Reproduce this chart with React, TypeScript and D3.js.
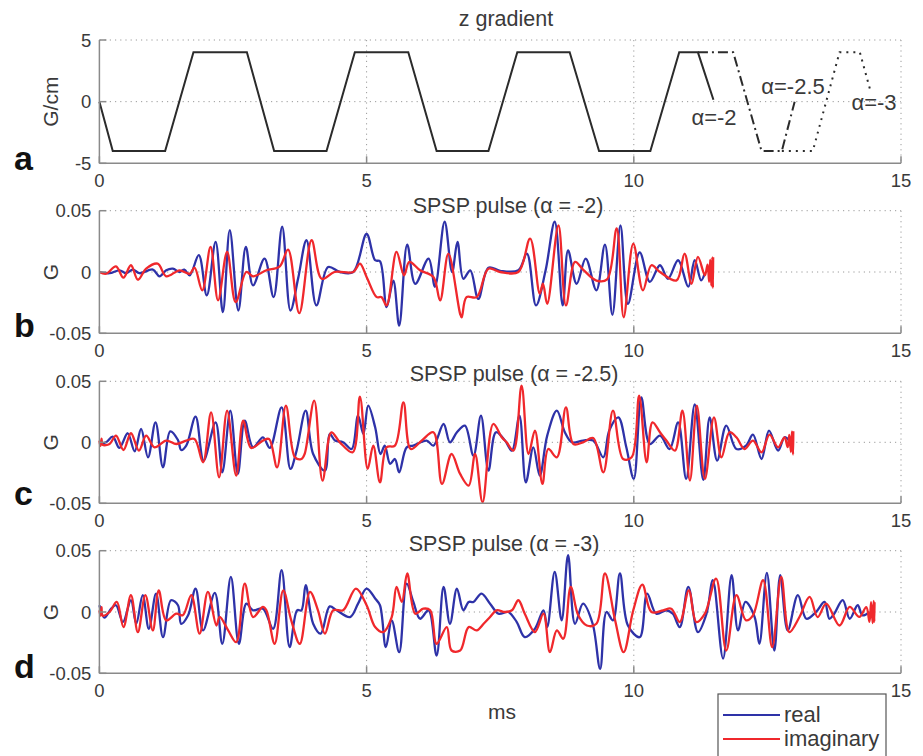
import React from "react";
import * as d3 from "d3";

// ---------- data ----------
type P = [number, number];

const xTickValues = [0, 5, 10, 15];
const gradTicks = [-5, 0, 5];
const pulseTicks = [-0.05, 0, 0.05];

// z gradient (G/cm) vs time (ms)
const gradAlpha2: P[] = [
  [0, 0], [0.25, -4], [1.23, -4], [1.76, 4], [2.76, 4], [3.27, -4], [4.25, -4], [4.78, 4], [5.78, 4],
  [6.31, -4], [7.28, -4], [7.82, 4], [8.8, 4], [9.35, -4], [10.31, -4], [10.85, 4], [11.2, 4], [11.49, 0.15],
];
const gradAlpha25: P[] = [[11.2, 4], [11.86, 4], [12.39, -4], [12.77, -4], [13.01, 0]];
const gradAlpha3: P[] = [[12.77, -4], [13.35, -4], [13.85, 4], [14.23, 4], [14.42, 1.0]];

const realB: P[] = [
  [0, 0], [0.19, -0.001], [0.375, 0.0014], [0.5, -0.001], [0.625, 0.002], [0.75, -0.001], [1.0, 0.002], [1.125, -0.0035],
  [1.25, 0.0014], [1.375, 0.0027], [1.5, 0], [1.59, 0.002], [1.69, -0.0027],
  [1.86, 0.0137], [2.01, -0.0191], [2.175, 0.0246], [2.31, -0.0328], [2.44, 0.0341], [2.6, -0.0314], [2.74, 0.0205],
  [2.875, -0.0109], [3.09, 0.0109], [3.26, -0.0205], [3.42, 0.0369], [3.575, -0.0314], [3.72, -0.005], [3.875, 0.0259],
  [4.06, -0.0273], [4.28, 0.0041], [4.5, 0.0], [4.75, 0.0],
  [5.0, 0.031], [5.16, 0.0096], [5.25, 0.0087], [5.375, -0.0287], [5.5, -0.007], [5.61, -0.0437], [5.76, 0.0224],
  [5.91, -0.0096], [6.16, 0.0109], [6.28, -0.012], [6.46, 0.041], [6.6, 0.0], [6.7, 0.0246],
  [6.81, -0.0055], [6.94, 0.0014], [7.09, -0.022], [7.28, 0.0035], [7.5, 0.001], [7.84, 0.0014], [8.0, 0.015],
  [8.17, -0.0273], [8.35, 0.0014], [8.52, 0.041], [8.67, -0.0273], [8.77, 0.0177], [8.93, -0.0096], [9.1, 0.0109],
  [9.3, -0.015], [9.46, 0.0224], [9.6, -0.035], [9.75, 0.038], [9.89, -0.026], [10.11, 0.016], [10.3, -0.008],
  [10.49, 0.0055], [10.64, -0.0055], [10.83, 0.0096], [11.02, -0.012], [11.14, 0.0096], [11.26, -0.0068], [11.33, -0.001],
];
const imagB: P[] = [
  [0, 0], [0.125, -0.0014], [0.31, 0.0046], [0.45, -0.0046], [0.59, 0.0055], [0.72, -0.0063], [0.875, 0.0027],
  [1.09, 0.0068], [1.25, -0.0035], [1.5, 0.0014], [1.69, -0.0014], [1.78, 0.0035],
  [1.925, -0.015], [2.08, 0.0205], [2.22, -0.0232], [2.39, 0.0164], [2.55, -0.0246], [2.75, 0.0], [2.875, -0.0035],
  [3.125, 0.0014], [3.375, 0.0046], [3.53, 0.0183], [3.74, -0.0336], [3.97, 0.0259], [4.16, -0.0055], [4.4, 0.0], [4.75, 0.0],
  [4.875, 0.0068], [5.0, -0.004], [5.19, -0.0205], [5.28, -0.0205], [5.375, -0.0273], [5.56, 0.0164], [5.7, -0.0027],
  [5.8, 0.0082], [6.0, 0.0014], [6.25, -0.004], [6.375, -0.0232], [6.53, 0.015], [6.75, -0.0341],
  [6.78, -0.037], [6.87, -0.0205], [7.06, -0.0205], [7.28, 0.0027], [7.5, 0.0], [7.84, 0.0], [8.06, 0.0273],
  [8.24, -0.0177], [8.3, -0.0096], [8.38, -0.026], [8.59, 0.038], [8.73, -0.0273], [8.9, 0.0082], [9.05, 0.002],
  [9.3, -0.007], [9.5, -0.006], [9.68, 0.0355], [9.81, -0.0369], [9.99, 0.0232], [10.17, -0.015], [10.33, 0.0055],
  [10.49, 0.0], [10.8, -0.0068], [10.95, 0.015], [11.08, -0.0096], [11.2, 0.0123], [11.33, -0.0027],
  [11.38, 0.006], [11.41, -0.008], [11.43, 0.01], [11.45, -0.011], [11.47, 0.012], [11.48, -0.013], [11.485, 0.012],
];

const realC: P[] = [
  [0, -0.0014], [0.125, 0], [0.25, 0.0046], [0.375, -0.0046], [0.53, 0.0074], [0.66, -0.0074], [0.78, 0.0109],
  [0.91, -0.0123], [1.05, 0.0164], [1.19, -0.0205], [1.325, 0.009], [1.47, 0.0019], [1.53, -0.0063], [1.625, -0.0027],
  [1.8, 0.021], [1.95, -0.015], [2.175, 0.0164], [2.3, -0.0246], [2.45, 0.0259], [2.59, -0.0259], [2.72, 0.0177],
  [2.875, -0.0041], [3.06, 0.0041], [3.19, -0.0046], [3.41, 0.0287], [3.575, -0.0218], [3.69, -0.0068], [3.86, 0.0259],
  [4.0, -0.0096], [4.22, -0.0232], [4.31, 0.0068], [4.41, 0.0014], [4.56, 0], [4.72, -0.0055], [4.84, 0.0218],
  [4.94, 0.0068], [5.03, 0.03], [5.16, 0.0123], [5.26, -0.0096], [5.34, -0.0027], [5.44, -0.0177], [5.53, -0.0137],
  [5.61, -0.0246], [5.75, -0.0041], [5.875, -0.0027], [6.125, 0.0014], [6.25, -0.0027], [6.44, 0.015], [6.56, 0],
  [6.69, 0.0082],
  [6.84, 0.0137], [7.0, -0.0109], [7.14, 0.0218], [7.28, -0.0232], [7.42, 0.0082], [7.59, 0.0014], [7.72, -0.0068],
  [7.86, 0.0218], [7.98, -0.0328], [8.12, -0.0041], [8.24, -0.0273], [8.38, 0.0055], [8.56, 0.0259], [8.71, 0.0082],
  [8.84, 0], [9.05, 0.0014], [9.24, 0.0014], [9.43, -0.0123], [9.54, 0.0096], [9.71, 0.0205], [9.86, -0.0041],
  [10.0, -0.03], [10.14, 0.0369], [10.3, -0.0014], [10.49, 0.0055], [10.67, -0.0055], [10.83, 0.0164], [10.98, -0.03],
  [11.14, 0.031], [11.3, -0.0308], [11.42, 0.0205], [11.56, -0.015], [11.73, 0.0137], [11.92, -0.0055], [12.1, -0.0027],
  [12.23, 0.0063], [12.39, -0.0137], [12.53, 0.0096], [12.7, -0.0068], [12.82, 0.0041], [12.91, 0.0014],
];
const imagC: P[] = [
  [0, 0.0014], [0.02, -0.003], [0.04, 0.003], [0.06, -0.002], [0.19, -0.0014], [0.31, 0.0055], [0.45, -0.0063],
  [0.59, 0.0074], [0.74, -0.0068], [0.875, 0.0055], [1.03, -0.0041], [1.25, 0.0014], [1.44, -0.0014], [1.625, 0.0014],
  [1.78, 0.0027], [1.94, -0.0164], [2.09, 0.0246], [2.24, -0.0287], [2.39, 0.0259], [2.56, -0.0273], [2.69, 0.0177],
  [2.84, -0.0046], [3.06, 0.0014], [3.175, 0.0027], [3.325, -0.0205], [3.49, 0.03], [3.66, -0.0123], [3.78, -0.0137],
  [3.84, -0.0096], [4.02, 0.0341], [4.175, -0.0314], [4.34, 0.0082], [4.5, 0], [4.74, -0.0082], [4.875, 0.0374],
  [5.02, -0.0218], [5.125, -0.0027], [5.25, -0.0328], [5.375, -0.0041], [5.53, -0.0027], [5.69, 0.0328],
  [5.825, -0.0055], [6.03, 0.0014], [6.25, 0.0082], [6.41, -0.0341], [6.59, -0.0096], [6.75, -0.0259],
  [6.91, -0.0355], [7.03, -0.0096], [7.17, -0.0491], [7.37, 0.015], [7.53, 0.0041], [7.62, 0], [7.75, -0.0068],
  [7.9, 0.0464], [8.03, -0.0096], [8.15, 0.0096], [8.29, -0.0341], [8.4, -0.0055], [8.56, -0.0123], [8.73, 0.0287],
  [8.87, -0.0014], [9.05, 0], [9.24, 0.0035], [9.43, -0.0246], [9.61, 0.0259], [9.8, -0.0137], [9.96, -0.0123],
  [10.1, 0.0382], [10.24, -0.0164], [10.35, 0.0164], [10.49, 0.0082], [10.61, 0.0014], [10.77, -0.0068], [10.91, 0.0259],
  [11.05, -0.0314], [11.18, 0.03], [11.33, -0.03], [11.5, 0.0205], [11.64, -0.0123], [11.79, 0.0082], [11.92, 0.0041],
  [12.07, -0.0055], [12.23, 0.0014], [12.39, -0.0082], [12.54, 0.0063], [12.7, -0.0041], [12.82, 0.0041],
  [12.88, -0.004], [12.91, 0.006], [12.94, -0.008], [12.96, 0.009], [12.98, -0.01], [12.985, 0.009],
];

const realD: P[] = [
  [0, 0.0055], [0.094, -0.0046], [0.22, 0.0027], [0.31, 0.0055], [0.44, -0.0082], [0.59, 0.0096], [0.69, -0.0096],
  [0.81, 0.0137], [0.925, -0.0137], [1.06, 0.015], [1.19, -0.0205], [1.34, 0.0096], [1.47, 0.0055], [1.53, -0.0096],
  [1.66, -0.0027], [1.8, 0.0191], [1.94, -0.015], [2.16, 0.0156], [2.3, -0.0259], [2.46, 0.0287], [2.61, -0.0259],
  [2.75, 0.0068], [2.875, 0.0014], [3.06, 0.0027], [3.25, -0.0137], [3.41, 0.0341], [3.56, -0.0287], [3.7, 0.0014],
  [3.78, 0.0014], [3.86, 0.0218], [4.0, -0.0096], [4.14, -0.0177], [4.31, 0.0046], [4.44, 0.0014], [4.69, -0.0041],
  [4.84, 0.0068], [5.0, 0.0191], [5.16, 0.011], [5.25, 0.0055], [5.36, -0.0287], [5.47, -0.0068], [5.61, -0.0328],
  [5.75, 0.0232], [5.875, 0.0082], [6.0, -0.0055], [6.16, 0.0014], [6.31, -0.0355], [6.44, 0.0205], [6.56, -0.0096],
  [6.69, 0.0191],
  [6.81, 0.0014], [6.91, 0.0082], [7.0, 0.0082], [7.15, 0.015], [7.31, 0.0068], [7.47, -0.0014], [7.65, 0],
  [7.81, -0.0082], [7.96, -0.0205], [8.15, -0.0137], [8.31, 0.0014], [8.38, -0.0123], [8.52, 0.0328], [8.65, -0.0068],
  [8.77, 0.0464], [8.9, -0.0096], [9.05, 0.0068], [9.23, -0.0096], [9.37, -0.0464], [9.49, 0], [9.61, -0.0068],
  [9.74, 0.0314], [9.89, -0.011], [10.11, -0.0205], [10.25, 0.015], [10.42, -0.0014], [10.61, 0.0014], [10.73, -0.0014],
  [10.86, -0.0123], [11.02, 0.0205], [11.2, -0.0164], [11.36, -0.0014], [11.48, 0.0259], [11.67, -0.038], [11.83, 0.03],
  [11.95, -0.015], [12.09, 0.0082], [12.26, -0.004], [12.35, -0.0259], [12.49, 0.0319], [12.63, -0.0314], [12.74, 0.03],
  [12.88, -0.015], [13.07, 0.0137], [13.23, -0.0055], [13.41, 0], [13.57, 0.0082], [13.66, -0.0055], [13.75, -0.0014],
  [13.91, 0.0096], [14.04, -0.0055], [14.19, 0.0055], [14.28, -0.0027], [14.41, 0],
];
const imagD: P[] = [
  [0, 0.0014], [0.02, -0.003], [0.04, 0.004], [0.06, -0.003], [0.19, 0], [0.325, 0.0082], [0.45, -0.0123],
  [0.59, 0.0137], [0.72, -0.0164], [0.86, 0.0137], [1.0, -0.015], [1.11, 0.0177], [1.25, -0.0068], [1.44, -0.0014],
  [1.56, -0.0027], [1.72, 0.0137], [1.875, -0.0177], [2.03, 0.0164], [2.19, -0.011], [2.25, -0.004], [2.41, -0.015],
  [2.56, -0.0246], [2.72, 0.0232], [2.875, -0.0041], [3.06, 0.0041], [3.125, 0.0014], [3.28, -0.0259], [3.44, 0.0177],
  [3.59, -0.0068], [3.75, -0.0259], [3.94, 0.0164], [4.09, 0.0014], [4.22, -0.0177], [4.375, 0.0014], [4.56, 0.0014],
  [4.8, 0.0191], [5.0, 0.0055], [5.16, -0.0123], [5.31, -0.0164], [5.47, -0.0041], [5.56, 0.0205], [5.66, 0.0082],
  [5.76, 0.0314], [5.91, -0.0014], [6.06, 0.0027], [6.19, 0.0014], [6.31, -0.0259], [6.5, -0.0123], [6.59, -0.0314],
  [6.75, -0.0314],
  [6.91, -0.0123], [7.06, -0.015], [7.19, -0.0096], [7.31, -0.0041], [7.43, 0.0014], [7.59, 0], [7.72, 0.0014],
  [7.84, 0.0096], [7.96, -0.0014], [8.15, -0.0164], [8.31, -0.0014], [8.43, -0.0328], [8.56, -0.015], [8.68, -0.0218],
  [8.82, 0.0205], [8.96, -0.0027], [9.12, -0.011], [9.3, -0.0096], [9.46, 0.0314], [9.65, -0.0068], [9.81, -0.0328],
  [9.99, 0.0014], [10.16, 0.0224], [10.33, 0], [10.55, 0.0014], [10.7, 0.0027], [10.86, -0.0082], [11.03, 0.0177],
  [11.17, -0.0082], [11.33, -0.0014], [11.54, 0.0273], [11.73, -0.0314], [11.92, 0.0137], [12.1, -0.0068],
  [12.23, -0.0027], [12.42, 0.0259], [12.59, -0.0287], [12.76, 0.0287], [12.91, -0.0164], [13.1, -0.0041],
  [13.29, 0.0123], [13.44, -0.0041], [13.6, 0.0068], [13.85, -0.011], [14.04, 0.0041], [14.22, -0.004], [14.35, 0.004],
  [14.41, -0.008], [14.44, 0.008], [14.47, -0.009], [14.49, 0.009], [14.5, -0.008], [14.505, 0.008],
];

const legendLabels = ["real", "imaginary"];

// ---------- styles ----------
const FONT = "'Liberation Sans', Arial, Helvetica, sans-serif";
const TEXT = "#3a3a3a";
const AXIS = "#8a8a8a";
const GRID = "#9a9a9a";
const BLUE = "#2e32a8";
const RED = "#f0282c";

const X0 = 99.4;
const X1 = 901;

const x = d3.scaleLinear().domain([0, 15]).range([X0, X1]);

interface PanelProps {
  top: number;
  bottom: number;
  domain: [number, number];
  ticks: number[];
  letter: string;
  letterY: number;
  ylabel: string;
  title: string;
  titleX: number;
  titleY: number;
  children: (y: d3.ScaleLinear<number, number>) => React.ReactNode;
}

function Panel(p: PanelProps) {
  const y = d3.scaleLinear().domain(p.domain).range([p.bottom, p.top]);
  const yMid = (p.top + p.bottom) / 2;
  return (
    <g>
      {p.ticks.filter((t) => t !== p.domain[0]).map((t) => (
        <line key={"gy" + t} x1={X0} x2={X1} y1={y(t)} y2={y(t)} stroke={GRID} strokeWidth={1} strokeDasharray="1.2,4" />
      ))}
      {xTickValues.filter((t) => t !== 0).map((t) => (
        <line key={"gx" + t} x1={x(t)} x2={x(t)} y1={p.top} y2={p.bottom} stroke={GRID} strokeWidth={1} strokeDasharray="1.2,4" />
      ))}
      {p.children(y)}
      <line x1={X0} x2={X0} y1={p.top} y2={p.bottom} stroke={AXIS} strokeWidth={1.5} />
      <line x1={X0} x2={X1} y1={p.bottom} y2={p.bottom} stroke={AXIS} strokeWidth={1.5} />
      {xTickValues.map((t) => (
        <g key={"xt" + t}>
          <line x1={x(t)} x2={x(t)} y1={p.bottom} y2={p.bottom - 7} stroke={AXIS} strokeWidth={1.5} />
          <text x={x(t)} y={p.bottom + 24} textAnchor="middle" fontSize={18.5} fill={TEXT} fontFamily={FONT}>
            {String(t)}
          </text>
        </g>
      ))}
      {p.ticks.map((t) => (
        <g key={"yt" + t}>
          <line x1={X0} x2={X0 + 7} y1={y(t)} y2={y(t)} stroke={AXIS} strokeWidth={1.5} />
          <text x={X0 - 8} y={y(t)} dy="0.36em" textAnchor="end" fontSize={18.5} fill={TEXT} fontFamily={FONT}>
            {String(t)}
          </text>
        </g>
      ))}
      <text
        transform={`translate(58,${yMid}) rotate(-90)`}
        textAnchor="middle"
        fontSize={21}
        fill={TEXT}
        fontFamily={FONT}
      >
        {p.ylabel}
      </text>
      <text x={p.titleX} y={p.titleY} textAnchor="middle" fontSize={21.5} fill={TEXT} fontFamily={FONT}>
        {p.title}
      </text>
      <text x={14} y={p.letterY} fontSize={34} fontWeight="bold" fill="#111" fontFamily={FONT}>
        {p.letter}
      </text>
    </g>
  );
}

function pulseLines(real: P[], imag: P[]) {
  return (y: d3.ScaleLinear<number, number>) => {
    const line = d3
      .line<P>()
      .x((d) => x(d[0]))
      .y((d) => y(d[1]))
      .curve(d3.curveCatmullRom.alpha(0.5));
    return (
      <g fill="none" strokeWidth={2.3} strokeLinejoin="round">
        <path d={line(real) || ""} stroke={BLUE} />
        <path d={line(imag) || ""} stroke={RED} />
      </g>
    );
  };
}

export default function App() {
  const gradPanel = (y: d3.ScaleLinear<number, number>) => {
    const line = d3.line<P>().x((d) => x(d[0])).y((d) => y(d[1]));
    return (
      <g fill="none" stroke="#2b2b2b" strokeWidth={2}>
        <path d={line(gradAlpha2) || ""} />
        <path d={line(gradAlpha25) || ""} strokeDasharray="10,4,2,4" />
        <path d={line(gradAlpha3) || ""} strokeDasharray="2,5" />
        <g stroke="none" fill={TEXT} fontFamily={FONT} fontSize={22}>
          <text x={714} y={125} textAnchor="middle">α=-2</text>
          <text x={793} y={94} textAnchor="middle">α=-2.5</text>
          <text x={874} y={110} textAnchor="middle">α=-3</text>
        </g>
      </g>
    );
  };

  return (
    <svg
      width={923}
      height={756}
      style={{ position: "absolute", left: 0, top: 0, background: "#fff" }}
    >
      <rect width={923} height={756} fill="#fff" />
      <Panel top={40} bottom={163.3} domain={[-5, 5]} ticks={gradTicks} letter="a" letterY={170}
        ylabel="G/cm" title="z gradient" titleX={506} titleY={26}>
        {gradPanel}
      </Panel>
      <Panel top={210.7} bottom={333.3} domain={[-0.05, 0.05]} ticks={pulseTicks} letter="b" letterY={337}
        ylabel="G" title="SPSP pulse (α = -2)" titleX={508} titleY={213}>
        {pulseLines(realB, imagB)}
      </Panel>
      <Panel top={381.3} bottom={503.3} domain={[-0.05, 0.05]} ticks={pulseTicks} letter="c" letterY={505}
        ylabel="G" title="SPSP pulse (α = -2.5)" titleX={514} titleY={381}>
        {pulseLines(realC, imagC)}
      </Panel>
      <Panel top={550.7} bottom={673.3} domain={[-0.05, 0.05]} ticks={pulseTicks} letter="d" letterY={678}
        ylabel="G" title="SPSP pulse (α = -3)" titleX={504} titleY={551}>
        {pulseLines(realD, imagD)}
      </Panel>
      <text x={502} y={719} textAnchor="middle" fontSize={21} fill={TEXT} fontFamily={FONT}>
        ms
      </text>
      <g>
        <rect x={718} y={694} width={168} height={70} fill="#fff" stroke="#555" strokeWidth={1.2} />
        {legendLabels.map((lab, i) => (
          <g key={lab}>
            <line x1={723} x2={780} y1={715 + i * 24} y2={715 + i * 24} stroke={i === 0 ? BLUE : RED} strokeWidth={2} />
            <text x={784} y={722 + i * 24} fontSize={22} fill={TEXT} fontFamily={FONT}>
              {lab}
            </text>
          </g>
        ))}
      </g>
    </svg>
  );
}
